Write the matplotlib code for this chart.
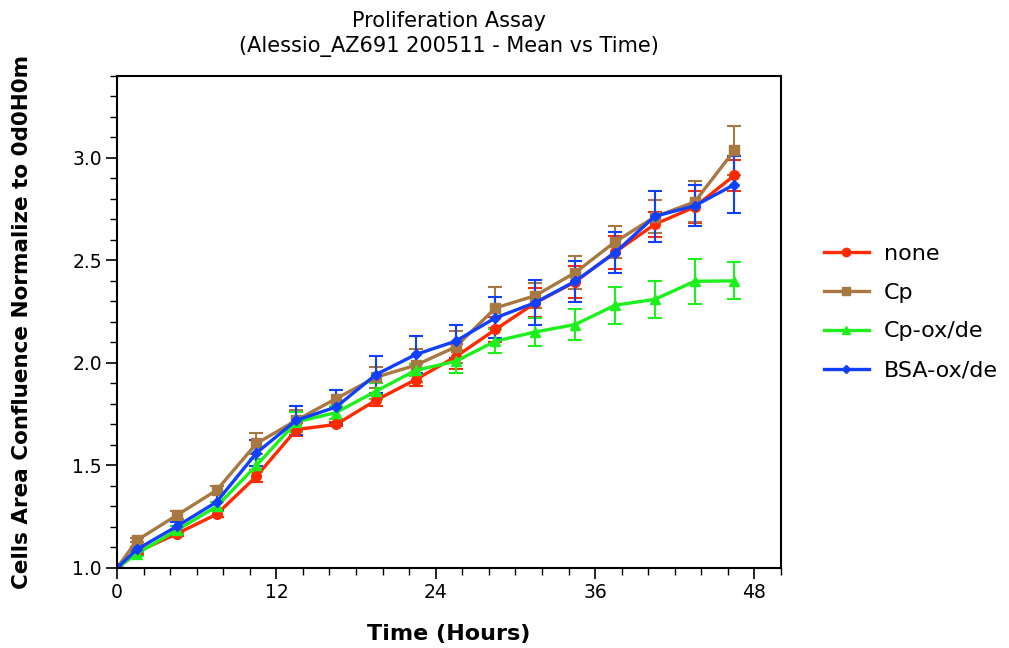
import matplotlib.pyplot as plt
from matplotlib.ticker import MultipleLocator
from matplotlib.lines import Line2D

# Time points (hours)
hours = [0, 1.5, 4.5, 7.5, 10.5, 13.5, 16.5, 19.5, 22.5, 25.5, 28.5, 31.5, 34.5, 37.5, 40.5, 43.5, 46.5]

# Mean values, normalized to t=0
none_mean = [1.0, 1.078, 1.167, 1.262, 1.447, 1.675, 1.70, 1.818, 1.919, 2.03, 2.163, 2.293, 2.395, 2.54, 2.676, 2.76, 2.915]
cp_mean = [1.0, 1.135, 1.257, 1.379, 1.607, 1.72, 1.826, 1.93, 1.989, 2.078, 2.268, 2.328, 2.44, 2.59, 2.712, 2.785, 3.037]
cpox_mean = [1.0, 1.07, 1.184, 1.30, 1.50, 1.712, 1.758, 1.862, 1.964, 2.008, 2.106, 2.151, 2.187, 2.281, 2.31, 2.398, 2.40]
bsa_mean = [1.0, 1.091, 1.203, 1.322, 1.561, 1.72, 1.785, 1.943, 2.041, 2.106, 2.22, 2.294, 2.398, 2.537, 2.715, 2.766, 2.87]

# Error bars (+/-)
none_err = [0, 0.01, 0.01, 0.015, 0.03, 0.03, 0.01, 0.03, 0.03, 0.06, 0.06, 0.07, 0.08, 0.08, 0.06, 0.08, 0.075]
cp_err = [0, 0.01, 0.02, 0.02, 0.05, 0.05, 0.04, 0.05, 0.08, 0.08, 0.10, 0.06, 0.08, 0.08, 0.08, 0.10, 0.12]
cpox_err = [0, 0.01, 0.02, 0.02, 0.03, 0.05, 0.03, 0.04, 0.03, 0.055, 0.06, 0.07, 0.075, 0.09, 0.09, 0.11, 0.09]
bsa_err = [0, 0.01, 0.02, 0.04, 0.065, 0.07, 0.085, 0.09, 0.09, 0.08, 0.10, 0.11, 0.10, 0.10, 0.125, 0.10, 0.14]

series = [
    ("none", none_mean, none_err, "#ff2a00", "o", 7),
    ("Cp", cp_mean, cp_err, "#a87842", "s", 7),
    ("Cp-ox/de", cpox_mean, cpox_err, "#1ef01e", "^", 7),
    ("BSA-ox/de", bsa_mean, bsa_err, "#1040ff", "D", 5.5),
]

fig = plt.figure(figsize=(10.09, 6.48), dpi=100)
ax = fig.add_axes([0.116, 0.1235, 0.658, 0.7595])

handles = []
for label, mean, err, color, marker, ms in series:
    ax.errorbar(hours, mean, yerr=err, color=color, marker=marker, markersize=ms,
                linewidth=2.4, elinewidth=1.5, capsize=5, capthick=1.5)
    handles.append(Line2D([], [], color=color, marker=marker, markersize=ms - 1,
                          linewidth=2.4, label=label))

ax.set_xlim(0, 50)
ax.set_ylim(1.0, 3.4)
ax.xaxis.set_major_locator(MultipleLocator(12))
ax.xaxis.set_minor_locator(MultipleLocator(2))
ax.yaxis.set_major_locator(MultipleLocator(0.5))
ax.yaxis.set_minor_locator(MultipleLocator(0.1))
ax.yaxis.set_major_formatter(plt.FormatStrFormatter("%.1f"))
ax.tick_params(which="major", length=8, width=1.2, labelsize=13.5, pad=3)
ax.tick_params(which="minor", length=5, width=1.0)
for s in ax.spines.values():
    s.set_linewidth(1.5)

ax.set_title("Proliferation Assay\n(Alessio_AZ691 200511 - Mean vs Time)", fontsize=15, pad=17,
             linespacing=1.35)
ax.set_xlabel("Time (Hours)", fontsize=16, fontweight="bold", labelpad=16)
ax.set_ylabel("Cells Area Confluence Normalize to 0d0H0m", fontsize=15.5, fontweight="bold",
              labelpad=29)

ax.legend(handles=handles, loc="center left", bbox_to_anchor=(1.035, 0.52), frameon=False,
          fontsize=16, handlelength=2.0, handletextpad=0.7, labelspacing=0.85)

fig.savefig("out.png", dpi=100)
